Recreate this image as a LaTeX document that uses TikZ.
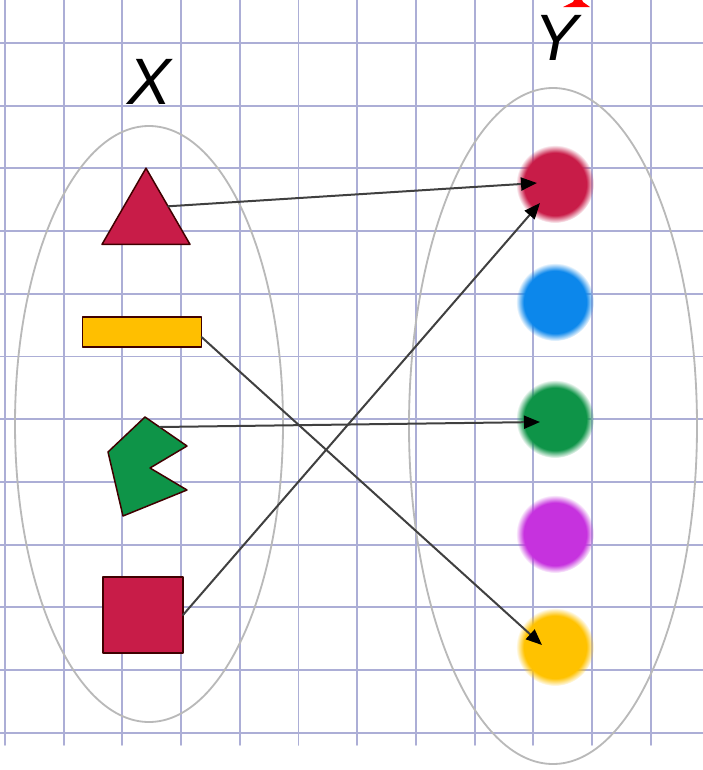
\documentclass[tikz,border=0pt]{standalone}
\usepackage{fontspec}
\setmainfont{Liberation Sans}
\usetikzlibrary{arrows.meta}
\usetikzlibrary{shapes.geometric}
\usetikzlibrary{fadings}

\definecolor{berry}{RGB}{200,28,72}
\definecolor{sky}{RGB}{12,135,235}
\definecolor{leaf}{RGB}{14,148,72}
\definecolor{violet}{RGB}{198,50,222}
\definecolor{amber}{RGB}{255,194,0}
\definecolor{gridblue}{RGB}{172,174,214}

\begin{document}
\begin{tikzpicture}[x=0.3mm, y=-0.3mm, line cap=round, line join=round, >={Triangle[length=4.8mm,width=3.9mm,color=black]},
	gridline/.style={draw=gridblue, line width=0.55mm},
	oval/.style={draw=gray!55, line width=0.55mm},
	solid shape/.style={draw=black!75!red, line width=0.45mm, inner sep=0pt, outer sep=0pt},
	dot/.style={circle, minimum size=23.4mm, inner sep=0pt, fill=#1, path fading=circle with fuzzy edge 20 percent},
	arr/.style={->, draw=black!75, line width=0.6mm},
	setlabel/.style={font=\fontsize{56}{60}\selectfont\itshape, inner sep=0pt}]
			\useasboundingbox (0,0) rectangle (703,770);
			% grid
			\foreach \i in {0,...,11}
				\draw[gridline] ({5+58.7*\i},0) -- ({5+58.7*\i},745);
			\foreach \j in {0,...,11}
				\draw[gridline] (0,{43+62.7*\j}) -- (703,{43+62.7*\j});
			% cut-off red mark at the top
			\fill[red] (563,7) -- (590,7) -- (583,2) -- (582,0) -- (574,0) -- (573,2) -- cycle;
			% sets
			\draw[oval] (149,424) ellipse [x radius=134, y radius=298];
			\draw[oval] (553,426) ellipse [x radius=144, y radius=338];
			\node[setlabel] (xlab) at (149,82) {X};
			\node[setlabel] (ylab) at (556,38) {Y};
			% domain
			\node[solid shape, regular polygon, regular polygon sides=3, minimum size=30.5mm, fill=berry] (tri) at (146,219) {};
			\node[solid shape, rectangle, minimum width=35.7mm, minimum height=9mm, fill=amber!95!orange] (bar) at (142,332) {};
			\draw[solid shape, fill=leaf] (145,417) -- (187,446) -- (150,468) -- (187,490) -- (123,516) -- (108,452) -- cycle;
			\coordinate (pac) at (160,427);
			\node[solid shape, rectangle, minimum width=24mm, minimum height=22.8mm, fill=berry] (sq) at (143,615) {};
			% codomain
			\node[dot=berry] (red) at (555,184) {};
			\node[dot=sky] (blue) at (555,302) {};
			\node[dot=leaf] (green) at (555,419) {};
			\node[dot=violet] (purple) at (555,534) {};
			\node[dot=amber] (yellow) at (555,647) {};
			% mapping
			\draw[arr] (tri.30) -- ([xshift=-5.4mm,yshift=0.3mm]red.center);
			\draw[arr] (sq.east) -- ([xshift=-4.5mm,yshift=-5.7mm]red.center);
			\draw[arr] (pac) -- ([xshift=-4.5mm,yshift=-0.9mm]green.center);
			\draw[arr] ([yshift=-1.5mm]bar.east) -- ([xshift=-3.9mm,yshift=0.6mm]yellow.center);
		\end{tikzpicture}
\end{document}
